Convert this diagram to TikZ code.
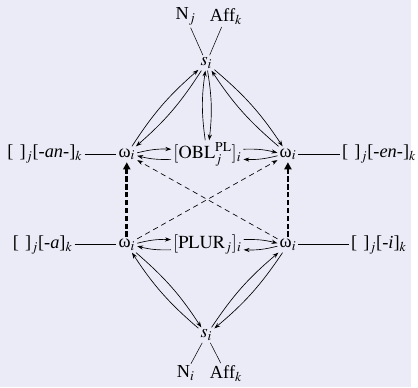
\documentclass[tikz,border=0pt]{standalone}
\usepackage{mathptmx}
\usepackage{fontspec}
\setmainfont{Liberation Serif}
\usepackage{tikz}
\usetikzlibrary{positioning, arrows.meta}
\definecolor{PageBack}{RGB}{235, 235, 248}
\newcommand{\om}{ω$_i$}

\begin{document}
\begin{tikzpicture}[
    x=0.75pt, y=-0.75pt,
    font=\fontsize{14}{16}\selectfont,
    every node/.style={inner sep=1.5pt},
    arrow/.style={-{Stealth[length=4.5pt, width=3.2pt]}, line width=0.5pt},
    weak/.style={arrow, dash pattern=on 4pt off 3pt},
    strong/.style={-{Triangle[length=5.5pt, width=5.5pt]}, line width=2pt, dash pattern=on 4pt off 2pt}
  ]
    \fill[PageBack] (0,0) rectangle (418,394);

    % Top stem
    \node (Ntop) at (189,17) {N$_j$};
    \node (Afftop) at (230,17) {Aff$_k$};
    \node (stop) at (210,64) {$s_i$};

    % Upper row
    \node (wUL) at (129,157) {\om};
    \node (obl) at (211,157) {$[\mathrm{OBL}^{\mathrm{PL}}_j]_i$};
    \node (wUR) at (293,157) {\om};
    \node[anchor=east] (an) at (86,157) {[\,\,]$_j$[\textit{-an-}]$_k$};
    \node[anchor=west] (en) at (346,157) {[\,\,]$_j$[\textit{-en-}]$_k$};

    % Lower row
    \node (wLL) at (129,249) {\om};
    \node (plur) at (211,249) {$[\mathrm{PLUR}_j]_i$};
    \node (wLR) at (293,249) {\om};
    \node[anchor=east] (a) at (76,249) {[\,\,]$_j$[\textit{-a}]$_k$};
    \node[anchor=west] (i) at (355,249) {[\,\,]$_j$[\textit{-i}]$_k$};

    % Bottom stem
    \node (sbot) at (210,341) {$s_i$};
    \node (Nbot) at (189,380) {N$_i$};
    \node (Affbot) at (230,380) {Aff$_k$};

    % Plain lines
    \draw (stop) -- (Ntop);
    \draw (stop) -- (Afftop);
    \draw (sbot) -- (Nbot);
    \draw (sbot) -- (Affbot);
    \draw (an) -- (wUL);
    \draw (wUR) -- (en);
    \draw (a) -- (wLL);
    \draw (wLR) -- (i);

    % Arrow pairs
    \foreach \p/\q in {stop/wUL, stop/obl, stop/wUR, wUL/obl, obl/wUR,
                       wLL/plur, plur/wLR, wLL/sbot, wLR/sbot} {
      \draw[arrow] (\p) to[bend left=8] (\q);
      \draw[arrow] (\q) to[bend left=8] (\p);
    }

    % Dashed links
    \draw[strong] (wLL) -- (wUL);
    \draw[strong] (wLR) -- (wUR);
    \draw[weak] (wLL) -- (wUR);
    \draw[weak] (wLR) -- (wUL);
  \end{tikzpicture}
\end{document}
